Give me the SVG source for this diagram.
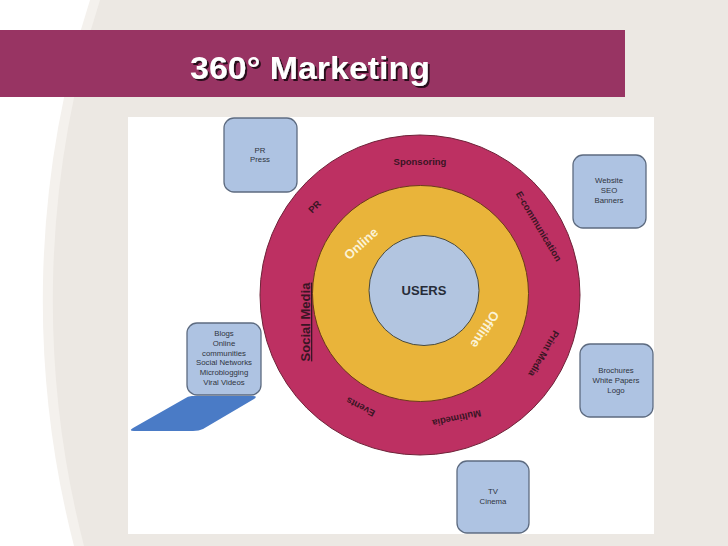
<svg xmlns="http://www.w3.org/2000/svg" width="728" height="546" viewBox="0 0 728 546">
<style>
.box{fill:#aec3e2;stroke:#5d6b80;stroke-width:1.3}
.bt{font-family:"Liberation Sans",Arial,sans-serif;font-size:7.8px;fill:#2e3440;text-anchor:middle}
.rt{font-family:"Liberation Sans",Arial,sans-serif;font-size:9.5px;font-weight:bold;fill:#3a1524;text-anchor:middle}
.wt{font-family:"Liberation Sans",Arial,sans-serif;font-size:13px;font-weight:bold;fill:#fbf3d6;text-anchor:middle}
</style>
<defs>
<filter id="shadow" x="-10%" y="-30%" width="120%" height="160%">
<feDropShadow dx="2" dy="2" stdDeviation="0.4" flood-color="#2a0f1c" flood-opacity="1"/>
</filter>
</defs>
<rect x="0" y="0" width="728" height="546" fill="#ece8e3"/>
<path d="M0,0 L100,0 A981,981 0 0 0 84,546 L0,546 Z" fill="#f4f1ed"/>
<path d="M0,0 L90,0 A981,981 0 0 0 74,546 L0,546 Z" fill="#ffffff"/>
<g id="title">
<rect x="0" y="30" width="625" height="67" fill="#983463"/>
<text x="310" y="79" font-family="'Liberation Sans',Arial,sans-serif" font-size="31" font-weight="bold" fill="#ffffff" text-anchor="middle" textLength="240" lengthAdjust="spacingAndGlyphs" filter="url(#shadow)">360° Marketing</text>
</g>
<rect x="128" y="117" width="526" height="417" fill="#ffffff"/>
<g id="connectors"/>
<g id="outer-ring">
<circle cx="420" cy="295" r="160" fill="#bd3062" stroke="#6e2238" stroke-width="1"/>
<text class="rt" x="420" y="165">Sponsoring</text>
<text class="rt" transform="translate(317,209) rotate(-45)">PR</text>
<text class="rt" transform="translate(536,228) rotate(59)">E-communication</text>
<text class="rt" transform="translate(541,352) rotate(120)">Print Media</text>
<text class="rt" transform="translate(456,415) rotate(168)">Multimedia</text>
<text class="rt" transform="translate(362,404) rotate(-152)">Events</text>
<text x="0" y="0" font-family="'Liberation Sans',Arial,sans-serif" font-size="13px" font-weight="bold" fill="#3a1524" text-anchor="middle" text-decoration="underline" transform="translate(310,322) rotate(-90)">Social Media</text>
</g>
<g id="middle-ring">
<circle cx="420.5" cy="293.5" r="108" fill="#e9b43a" stroke="#6b3a1a" stroke-width="1"/>
<text class="wt" transform="translate(364,247) rotate(-42)">Online</text>
<text class="wt" transform="translate(481,327) rotate(123)">Offline</text>
</g>
<g id="users">
<circle cx="424" cy="290.5" r="55" fill="#b2c5e0" stroke="#4a4a3a" stroke-width="1"/>
<text x="424" y="295" font-family="'Liberation Sans',Arial,sans-serif" font-size="13px" font-weight="bold" fill="#262c38" text-anchor="middle">USERS</text>
</g>
<g id="pr-press">
<rect class="box" x="224" y="118" width="73" height="74" rx="10"/>
<text class="bt" x="260" y="153">PR</text>
<text class="bt" x="260" y="162">Press</text>
</g>
<g id="website">
<rect class="box" x="573" y="155" width="73" height="73" rx="10"/>
<text class="bt" x="609" y="183">Website</text>
<text class="bt" x="609" y="193">SEO</text>
<text class="bt" x="609" y="203">Banners</text>
</g>
<g id="social">
<path d="M192,396 L253,396 Q258,396 254,399 L203,429 Q199,431 193,431 L134,431 Q128,431 133,428 L184,399 Q188,396 192,396 Z" fill="#4a7bc6"/>
<rect class="box" x="187" y="323" width="74" height="72" rx="10"/>
<text class="bt" x="224" y="336">Blogs</text>
<text class="bt" x="224" y="346">Online</text>
<text class="bt" x="224" y="355.5">communities</text>
<text class="bt" x="224" y="365">Social Networks</text>
<text class="bt" x="224" y="375">Microblogging</text>
<text class="bt" x="224" y="384.5">Viral Videos</text>
</g>
<g id="brochures">
<rect class="box" x="580" y="344" width="73" height="73" rx="10"/>
<text class="bt" x="616" y="373">Brochures</text>
<text class="bt" x="616" y="383">White Papers</text>
<text class="bt" x="616" y="393">Logo</text>
</g>
<g id="tv">
<rect class="box" x="457" y="461" width="72" height="72" rx="10"/>
<text class="bt" x="493" y="494">TV</text>
<text class="bt" x="493" y="504">Cinema</text>
</g>
</svg>
